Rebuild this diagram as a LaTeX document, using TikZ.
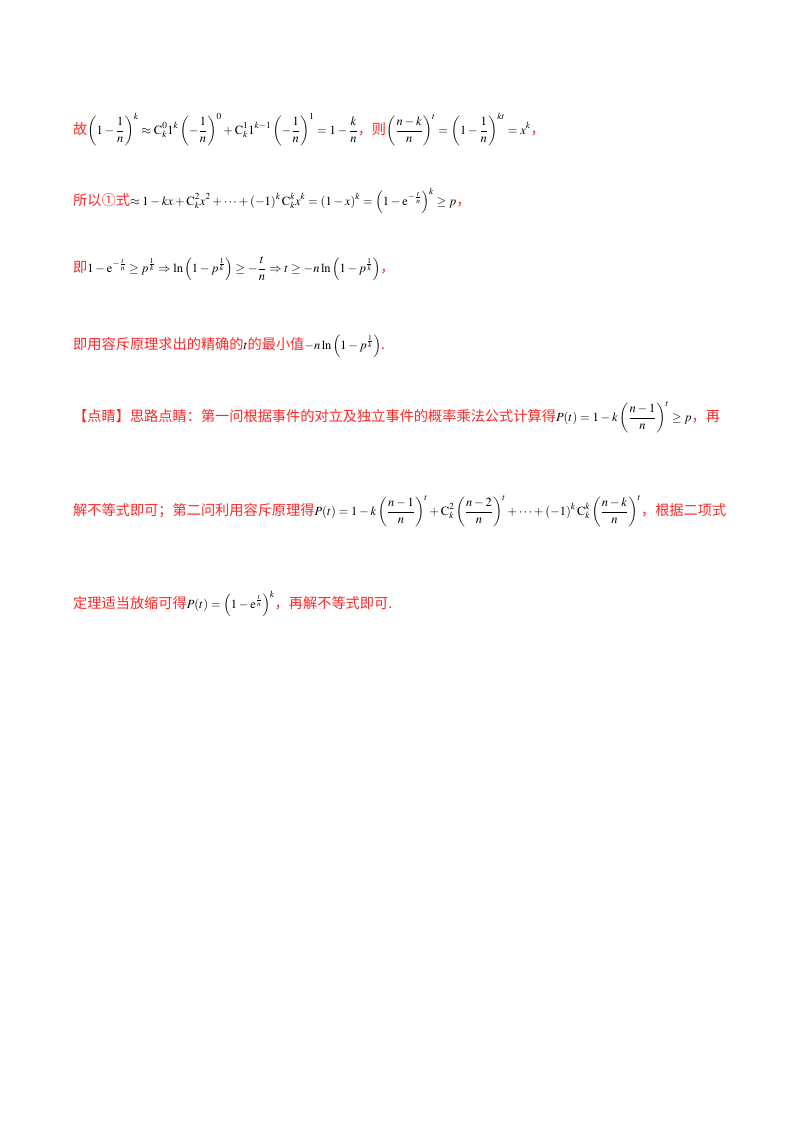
\documentclass[tikz,border=0pt]{standalone}
\usepackage{amsmath,amssymb}
\usepackage{mathptmx}
\usepackage{fontspec}
\newfontfamily\cjk{Noto Sans CJK SC}
\definecolor{rd}{RGB}{255,40,40}
\newcommand{\zh}[1]{\textcolor{rd}{\fontsize{14.2}{16}\selectfont\cjk #1}}
\tikzset{ln/.style={anchor=base west,inner sep=0pt,font=\fontsize{12.5}{15}\selectfont}}
\begin{document}
\begin{tikzpicture}[x=1pt,y=-1pt]
\useasboundingbox[fill=white] (0,0) rectangle (800,1132);
\node[ln] (l1) at (73,134) {\zh{故}$\displaystyle\left(1-\frac1n\right)^{k}\approx \mathrm{C}_k^0 1^k\left(-\frac1n\right)^0+\mathrm{C}_k^1 1^{k-1}\left(-\frac1n\right)^1=1-\frac kn$\zh{，则}$\displaystyle\left(\frac{n-k}{n}\right)^{t}=\left(1-\frac1n\right)^{kt}=x^k$\zh{，}};
\node[ln] (l2) at (73,205) {\zh{所以①式}$\displaystyle\approx 1-kx+\mathrm{C}_k^2x^2+\cdots+(-1)^k\,\mathrm{C}_k^kx^k=(1-x)^k=\left(1-\mathrm{e}^{-\frac tn}\right)^k\geq p$\zh{，}};
\node[ln] (l3) at (73,272) {\zh{即}$\displaystyle 1-\mathrm{e}^{-\frac tn}\geq p^{\frac1k}\Rightarrow \ln\left(1-p^{\frac1k}\right)\geq-\frac tn\Rightarrow t\geq -n\ln\left(1-p^{\frac1k}\right)$\zh{，}};
\node[ln] (l4) at (73,349) {\zh{即用容斥原理求出的精确的}$t$\zh{的最小值}$\displaystyle -n\ln\left(1-p^{\frac1k}\right)$\zh{.}};
\node[ln] (l5) at (73,421) {\zh{【点睛】思路点睛：第一问根据事件的对立及独立事件的概率乘法公式计算得}$\displaystyle P(t)=1-k\left(\frac{n-1}{n}\right)^{t}\geq p$\zh{，再}};
\node[ln] (l6) at (73,515) {\zh{解不等式即可；第二问利用容斥原理得}$\displaystyle P(t)=1-k\left(\frac{n-1}{n}\right)^{t}+\mathrm{C}_k^2\left(\frac{n-2}{n}\right)^{t}+\cdots+(-1)^k\,\mathrm{C}_k^k\left(\frac{n-k}{n}\right)^{t}$\zh{，根据二项式}};
\node[ln] (l7) at (73,608) {\zh{定理适当放缩可得}$\displaystyle P(t)=\left(1-\mathrm{e}^{\frac tn}\right)^k$\zh{，再解不等式即可.}};
\end{tikzpicture}
\end{document}
